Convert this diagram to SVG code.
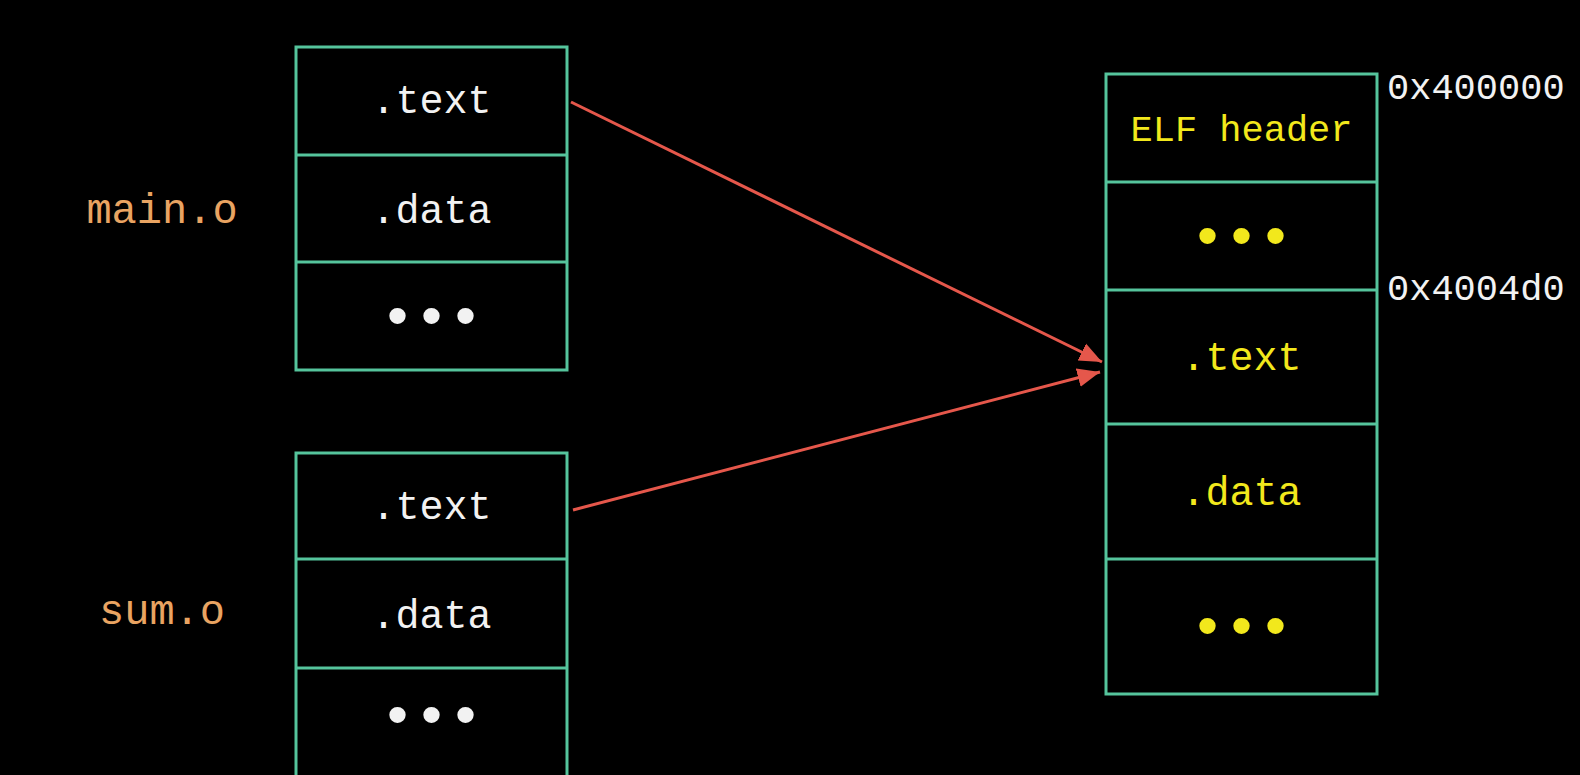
<svg xmlns="http://www.w3.org/2000/svg" width="1580" height="775" viewBox="0 0 1580 775">
<defs>
<style>
.box{fill:none;stroke:#55c49c;stroke-width:3}
.t{font-family:"Liberation Mono","Courier New",monospace;text-anchor:middle}
.w{fill:#f2f2f2}
.y{fill:#f2e81c}
.o{fill:#e9a462}
.a{font-family:"Liberation Mono","Courier New",monospace;fill:#f2f2f2;font-size:37px}
.dots{font-family:"Liberation Sans",Arial,sans-serif;font-size:60px;letter-spacing:13px;text-anchor:middle}
.conn{stroke:#e5574b;stroke-width:3;fill:none}
</style>
<marker id="ah" viewBox="0 0 10 10" refX="10" refY="5" markerWidth="7.5" markerHeight="7.5" markerUnits="strokeWidth" orient="auto">
<path d="M0,0.8 L10,5 L0,9.2 z" fill="#e5574b"/>
</marker>
</defs>
<rect width="1580" height="775" fill="#000"/>

<g id="main-label"><text class="t o" x="162" y="223" font-size="42">main.o</text></g>
<g id="sum-label"><text class="t o" x="162" y="624" font-size="42">sum.o</text></g>

<g id="main-o">
<rect class="box" x="296" y="47" width="271" height="323"/>
<line class="box" x1="296" y1="155" x2="567" y2="155"/>
<line class="box" x1="296" y1="262" x2="567" y2="262"/>
<text class="t w" x="431.5" y="113" font-size="40">.text</text>
<text class="t w" x="431.5" y="223" font-size="40">.data</text>
<text class="dots w" x="438" y="336">•••</text>
</g>

<g id="sum-o">
<rect class="box" x="296" y="453" width="271" height="330"/>
<line class="box" x1="296" y1="559" x2="567" y2="559"/>
<line class="box" x1="296" y1="668" x2="567" y2="668"/>
<text class="t w" x="431.5" y="519" font-size="40">.text</text>
<text class="t w" x="431.5" y="628" font-size="40">.data</text>
<text class="dots w" x="438" y="735">•••</text>
</g>

<g id="exe">
<rect class="box" x="1106" y="74" width="271" height="620"/>
<line class="box" x1="1106" y1="182" x2="1377" y2="182"/>
<line class="box" x1="1106" y1="290" x2="1377" y2="290"/>
<line class="box" x1="1106" y1="424" x2="1377" y2="424"/>
<line class="box" x1="1106" y1="559" x2="1377" y2="559"/>
<text class="t y" x="1241.5" y="141" font-size="37">ELF header</text>
<text class="dots y" x="1248" y="256">•••</text>
<text class="t y" x="1241.5" y="370" font-size="40">.text</text>
<text class="t y" x="1241.5" y="505" font-size="40">.data</text>
<text class="dots y" x="1248" y="646">•••</text>
</g>

<g id="addr1"><text class="a" x="1387" y="99">0x400000</text></g>
<g id="addr2"><text class="a" x="1387" y="300">0x4004d0</text></g>

<g id="connectors">
<line class="conn" x1="571" y1="102" x2="1102" y2="362" marker-end="url(#ah)"/>
<line class="conn" x1="573" y1="510" x2="1100" y2="372" marker-end="url(#ah)"/>
</g>
</svg>
